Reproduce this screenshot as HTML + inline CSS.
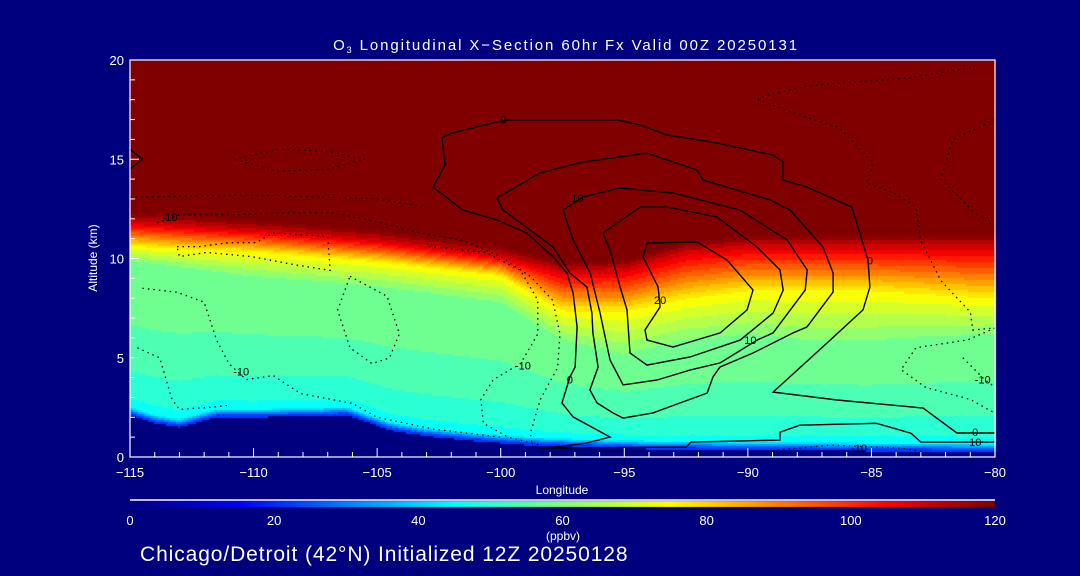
<!DOCTYPE html>
<html><head><meta charset="utf-8">
<style>
html,body{margin:0;padding:0;background:#00007f;}
body{width:1080px;height:576px;overflow:hidden;position:relative;font-family:"Liberation Sans",sans-serif;color:#fff;}
#wrap{position:absolute;left:0;top:0;width:1080px;height:576px;}
canvas{position:absolute;left:0;top:0;}
svg{position:absolute;left:0;top:0;}
</style></head>
<body>
<div id="wrap">
<canvas id="heat" width="1080" height="576"></canvas>
<svg id="ov" width="1080" height="576"></svg>
</div>
<script>
// ---- data ----
const lonGrid = [-115,-112.5,-110,-107.5,-105,-102.5,-100,-97.5,-95,-92.5,-90,-87.5,-85,-82.5,-80];
const zRed    = [11.8,11.6,11.4,11.15,10.9,10.5,10.1,9.3,9.4,10.3,10.6,10.6,10.6,10.6,10.6];
const zYellow = [10.6,10.4,10.3,10.05,9.8,9.45,9.1,7.3,7.25,7.9,8.3,8.3,8.3,8.1,7.9];
const zGreen  = [9.9,9.5,9.1,8.85,8.6,8.2,7.8,5.9,5.2,5.9,6.2,5.9,5.9,6.1,6.2];
const topoLon = [-115,-114,-113,-111.5,-110,-108,-106.2,-105.5,-104.5,-103,-101,-99,-97,-94,-90,-85,-80];
const topoAlt = [2.1,1.7,1.5,2.0,2.0,2.05,2.1,1.8,1.35,1.05,0.8,0.6,0.5,0.4,0.35,0.3,0.25];
const xTicks = [-115,-110,-105,-100,-95,-90,-85,-80];
const yTicks = [0,5,10,15,20];
const cbTicks = [0,20,40,60,80,100,120];

const c0 = [[-98.13,0.45],[-96.51,0.71],[-95.58,1.01],[-97.07,2.02],[-97.52,2.72],[-97.2,4.03],[-96.99,4.53],[-96.91,6.55],[-97.07,8.26],[-97.32,9.27],[-97.88,10.08],[-98.94,11.28],[-100.15,11.94],[-101.53,12.44],[-102.74,13.6],[-102.25,14.71],[-102.38,16.07],[-101.97,16.32],[-100.15,16.88],[-99.62,16.98],[-95.29,16.98],[-94.36,16.73],[-93.27,16.22],[-91.25,15.82],[-88.98,15.21],[-88.58,14.86],[-88.58,13.95],[-87.61,13.6],[-85.79,12.59],[-85.14,9.92],[-85.06,8.56],[-85.34,7.41],[-86.8,5.74],[-88.98,3.27],[-86.39,2.87],[-82.91,2.47],[-81.54,1.21],[-80,1.21]];
const c5 = [[-98.41,14.31],[-96.67,14.86],[-94.08,15.31],[-92.06,14.46],[-91.81,13.95],[-89.1,12.95],[-88.29,12.44],[-86.96,10.58],[-86.55,9.27],[-86.55,8.31],[-87.61,6.55],[-88.17,6.25],[-89.79,5.24],[-91.13,4.53],[-91.41,4.03],[-91.65,3.22],[-92.75,2.72],[-93.84,2.22],[-95.05,1.96],[-95.46,2.22],[-96.1,2.72],[-96.39,3.38],[-96.06,4.53],[-96.27,6.25],[-96.31,7.25],[-96.51,8.56],[-97.2,9.27],[-97.88,10.58],[-99.9,12.44],[-100.15,13.05],[-98.41,14.31]];
const c10 = [[-97.48,12.44],[-96.67,13.1],[-95.17,13.55],[-93.03,13.3],[-90.31,12.44],[-88.41,10.93],[-87.6,9.42],[-87.68,8.41],[-88.98,6.25],[-89.63,5.89],[-91.12,4.74],[-92.34,4.38],[-93.67,3.88],[-95.05,3.63],[-95.58,4.89],[-95.98,7.25],[-96.38,9.27],[-97.07,10.93],[-97.48,12.44]];
const c15 = [[-95.86,11.28],[-94.36,12.59],[-93.27,12.59],[-91.25,12.09],[-89.63,10.58],[-88.7,9.42],[-88.57,8.41],[-88.98,7.25],[-90.31,5.89],[-92.34,5.04],[-94.08,4.63],[-94.77,5.24],[-94.89,7.41],[-95.17,8.56],[-95.58,10.43],[-95.86,11.28]];
const c20 = [[-94.08,10.78],[-92.05,10.83],[-90.84,9.92],[-89.79,8.41],[-90.03,7.41],[-91.12,6.25],[-93.03,5.54],[-94.08,5.89],[-94.16,6.4],[-93.55,7.56],[-93.63,8.56],[-94.24,10.08],[-94.08,10.78]];
const cSfc = [[-98.4,0.45],[-92.5,0.5],[-92.3,0.75],[-88.7,0.85],[-88.7,1.25],[-87.9,1.6],[-84.8,1.7],[-83.4,1.2],[-83.0,0.75],[-80,0.75]];
const cEdge = [[-115,15.5],[-114.5,15.0],[-115,14.5]];
const dA = [[-113.9,11.8],[-113.0,12.2],[-110.8,12.2],[-108.9,12.3],[-106.8,12.3],[-104.8,11.8],[-103.3,11.3],[-101.5,10.9],[-100.0,10.1],[-98.8,9.1],[-97.9,7.9],[-97.6,6.2],[-97.7,4.5],[-98.4,2.9],[-98.8,1.2],[-98.7,0.5]];
const dB = [[-102.9,10.6],[-100.6,10.3],[-99.2,9.4],[-98.5,7.9],[-98.5,6.2],[-99.2,4.7],[-100.3,3.9],[-100.8,2.9],[-100.7,1.7],[-99.7,1.0],[-98.4,0.6]];
const dC = [[-113.1,10.6],[-112.2,10.6],[-111.0,10.8],[-109.9,10.8],[-109.2,11.3],[-107.0,11.1],[-106.9,9.4],[-108.4,9.7],[-110.1,10.1],[-111.9,10.3],[-113.0,10.1],[-113.1,10.6]];
const dD = [[-106.1,9.1],[-104.6,8.1],[-104.1,6.2],[-104.5,5.0],[-105.2,4.7],[-106.1,5.5],[-106.6,7.4],[-106.1,9.1]];
const dE = [[-114.5,8.5],[-113.1,8.3],[-112.0,7.8],[-111.5,5.9],[-111.0,4.7],[-110.3,3.9],[-109.2,4.1],[-108.1,3.2],[-106.0,2.7],[-105.0,2.0],[-102.7,1.4],[-100.0,1.0]];
const dF = [[-114.7,5.5],[-113.8,5.0],[-113.3,2.9],[-113.0,2.4],[-111.8,2.5],[-111.0,2.6]];
const dTop = [[-110.8,15.0],[-109.0,15.5],[-107.0,15.4],[-105.5,15.0],[-107.0,14.5],[-109.0,14.4],[-110.8,15.0]];
const dH = [[-115,13.1],[-110,13.2],[-105,13.0],[-103,12.6]];
const r0 = [[-89.6,18.0],[-89.3,18.2],[-87.6,18.7],[-83.5,19.1],[-81.0,19.6]];
const r1 = [[-89.6,18.0],[-87.6,17.1],[-86.3,16.6],[-84.9,14.8],[-85.2,13.8],[-84.1,13.3],[-83.2,12.6],[-83.0,10.9],[-82.2,8.9],[-81.0,7.3],[-80.9,6.4],[-80,6.5]];
const r2 = [[-80,17.0],[-81.7,16.0],[-82.2,14.0],[-80.9,12.4],[-80,11.6]];
const r3 = [[-80,6.5],[-81.1,5.9],[-83.2,5.5],[-83.8,4.4],[-82.8,3.5],[-81.0,2.9],[-80,2.2]];
const r4 = [[-81.3,5.0],[-80.5,4.0],[-80,3.5]];
const dSfc = [[-88.8,0.35],[-86.7,0.6],[-83.8,0.45],[-82.6,0.2]];
const labels = [["0",-99.9,17.0],["0",-85.06,9.9],["0",-97.2,3.9],["0",-80.8,1.25],["10",-96.9,13.05],["10",-89.9,5.9],["20",-93.55,7.9],["10",-80.8,0.75],["-10",-113.4,12.1],["-10",-110.5,4.3],["-10",-99.1,4.6],["-10",-80.5,3.9],["-10",-85.5,0.45]];

// ---- axes ----
const PX0=130, PX1=995, PY0=457, PY1=60;
const LON0=-115, LON1=-80, ALT0=0, ALT1=20;
function xs(lon){return PX0+(lon-LON0)/(LON1-LON0)*(PX1-PX0);}
function ys(a){return PY0-(a-ALT0)/(ALT1-ALT0)*(PY0-PY1);}
function interp(xa,ya,x){
  if(x<=xa[0])return ya[0];
  for(let i=1;i<xa.length;i++){if(x<=xa[i]){const t=(x-xa[i-1])/(xa[i]-xa[i-1]);return ya[i-1]+t*(ya[i]-ya[i-1]);}}
  return ya[ya.length-1];
}
function jet(v){
  let t=Math.max(0,Math.min(1,v/120));
  const st=[[0,0,0,128],[0.125,0,0,255],[0.375,0,255,255],[0.625,255,255,0],[0.875,255,0,0],[1,128,0,0]];
  for(let i=1;i<st.length;i++){if(t<=st[i][0]){const a=st[i-1],b=st[i],u=(t-a[0])/(b[0]-a[0]);
    return `rgb(${Math.round(a[1]+u*(b[1]-a[1]))},${Math.round(a[2]+u*(b[2]-a[2]))},${Math.round(a[3]+u*(b[3]-a[3]))})`;}}
  return 'rgb(128,0,0)';
}
function value(lon,alt){
  const sfc=interp(topoLon,topoAlt,lon);
  if(alt<sfc) return null;
  const zr=interp(lonGrid,zRed,lon), zy=interp(lonGrid,zYellow,lon), zg=interp(lonGrid,zGreen,lon);
  let v;
  if(alt>=zr) v=110+Math.min(10,(alt-zr)*20);
  else if(alt>=zy) v=75+(alt-zy)/(zr-zy)*35;
  else if(alt>=zg) v=60+(alt-zg)/(zy-zg)*15;
  else {
    const d=alt-sfc;
    if(d<0.1) v=22; else if(d<0.4) v=22+(d-0.1)/0.3*22;
    else { const f=Math.max(0,Math.min(1,(d-0.4)/Math.max(0.3,zg-sfc-0.4))); v=44+Math.sqrt(f)*16; }
  }
  return Math.floor(v/4)*4+2;
}
// heatmap
const cv=document.getElementById('heat');const ctx=cv.getContext('2d');
ctx.fillStyle='#00007f';ctx.fillRect(0,0,1080,576);
for(let px=PX0;px<PX1;px+=2){
  const lon=LON0+(px+1-PX0)/(PX1-PX0)*(LON1-LON0);
  for(let py=PY1;py<PY0;py+=2){
    const alt=ALT0+(PY0-(py+1))/(PY0-PY1)*(ALT1-ALT0);
    const v=value(lon,alt);
    ctx.fillStyle = v===null ? '#00007f' : jet(v);
    ctx.fillRect(px,py,2,2);
  }
}
// colorbar
for(let px=PX0;px<PX1;px++){ctx.fillStyle=jet((px-PX0)/(PX1-PX0)*120);ctx.fillRect(px,501,1,6);}

const NS='http://www.w3.org/2000/svg';
const ov=document.getElementById('ov');
function el(tag,attrs,parent){const e=document.createElementNS(NS,tag);for(const k in attrs)e.setAttribute(k,attrs[k]);(parent||ov).appendChild(e);return e;}
function drawLine(pts,dashed,name){
  const p=el('polyline',{points:pts.map(q=>xs(q[0]).toFixed(1)+','+ys(q[1]).toFixed(1)).join(' '),fill:'none',stroke:'#000','stroke-width':dashed?1.3:1.4,'stroke-dasharray':dashed?'1.5,4':'none'});
  
  
}
[[c0,'contour-0'],[c5,'contour-5'],[c10,'contour-10'],[c15,'contour-15'],[c20,'contour-20'],[cSfc,'contour-surface'],[cEdge,'contour-edge']].forEach(a=>drawLine(a[0],false,a[1]));
[[dA,'contour-neg-a'],[dB,'contour-neg-b'],[dC,'contour-neg-c'],[dD,'contour-neg-d'],[dE,'contour-neg-e'],[dF,'contour-neg-f'],[dTop,'contour-neg-top'],[dH,'contour-neg-h'],[r0,'contour-neg-r0'],[r1,'contour-neg-r1'],[r2,'contour-neg-r2'],[r3,'contour-neg-r3'],[r4,'contour-neg-r4'],[dSfc,'contour-neg-sfc']].forEach(a=>drawLine(a[0],true,a[1]));
labels.forEach(l=>{
  const t=el('text',{x:xs(l[1]),y:ys(l[2])+4,'font-size':11,'text-anchor':'middle',fill:'#000','font-family':'Liberation Sans, sans-serif'});
  t.textContent=l[0];
  
  
});
// frame
const fr=el('rect',{x:PX0,y:PY1,width:PX1-PX0,height:PY0-PY1,fill:'none',stroke:'#fff','stroke-width':1.2});


// x ticks
for(let lon=LON0;lon<=LON1;lon++){
  const major=xTicks.includes(lon);
  const tk=el('line',{x1:xs(lon),x2:xs(lon),y1:PY0,y2:PY0-(major?9:5),stroke:'#fff','stroke-width':1});
  
  
}
xTicks.forEach(v=>{
  const t=el('text',{x:xs(v),y:477,'font-size':13,'text-anchor':'middle',fill:'#fff'});
  t.textContent=(v<0?'\u2212':'')+Math.abs(v);
  
  
});
for(let a=ALT0;a<=ALT1;a++){
  const major=yTicks.includes(a);
  const tk=el('line',{x1:PX0,x2:PX0+(major?9:5),y1:ys(a),y2:ys(a),stroke:'#fff','stroke-width':1});
  
  
}
yTicks.forEach(v=>{
  const t=el('text',{x:124,y:ys(v)+5,'font-size':13,'text-anchor':'end',fill:'#fff'});
  t.textContent=v;
  
  
});
// colorbar
const cbl=el('line',{x1:PX0,x2:PX1,y1:500,y2:500,stroke:'#fff','stroke-width':1.5});


cbTicks.forEach(v=>{
  const t=el('text',{x:PX0+v/120*(PX1-PX0),y:525,'font-size':13,'text-anchor':'middle',fill:'#fff'});
  t.textContent=v;
  
  
});
</script>
<svg width="1080" height="576" style="position:absolute;left:0;top:0">
<text x="566" y="50" font-size="15" letter-spacing="1.9" text-anchor="middle" fill="#fff" font-family="Liberation Sans, sans-serif">O<tspan font-size="9" dy="3">3</tspan><tspan dy="-3"> Longitudinal X−Section 60hr  Fx Valid 00Z 20250131</tspan></text>
<text x="97" y="258" font-size="12" text-anchor="middle" fill="#fff" font-family="Liberation Sans, sans-serif" transform="rotate(-90 97 258)">Altitude (km)</text>
<text x="562" y="494" font-size="12" text-anchor="middle" fill="#fff" font-family="Liberation Sans, sans-serif">Longitude</text>
<text x="563" y="540" font-size="12" text-anchor="middle" fill="#fff" font-family="Liberation Sans, sans-serif">(ppbv)</text>
<text x="140" y="561" font-size="21" letter-spacing="0.9" fill="#fff" font-family="Liberation Sans, sans-serif">Chicago/Detroit (42°N) Initialized 12Z 20250128</text>
</svg>
</body></html>
